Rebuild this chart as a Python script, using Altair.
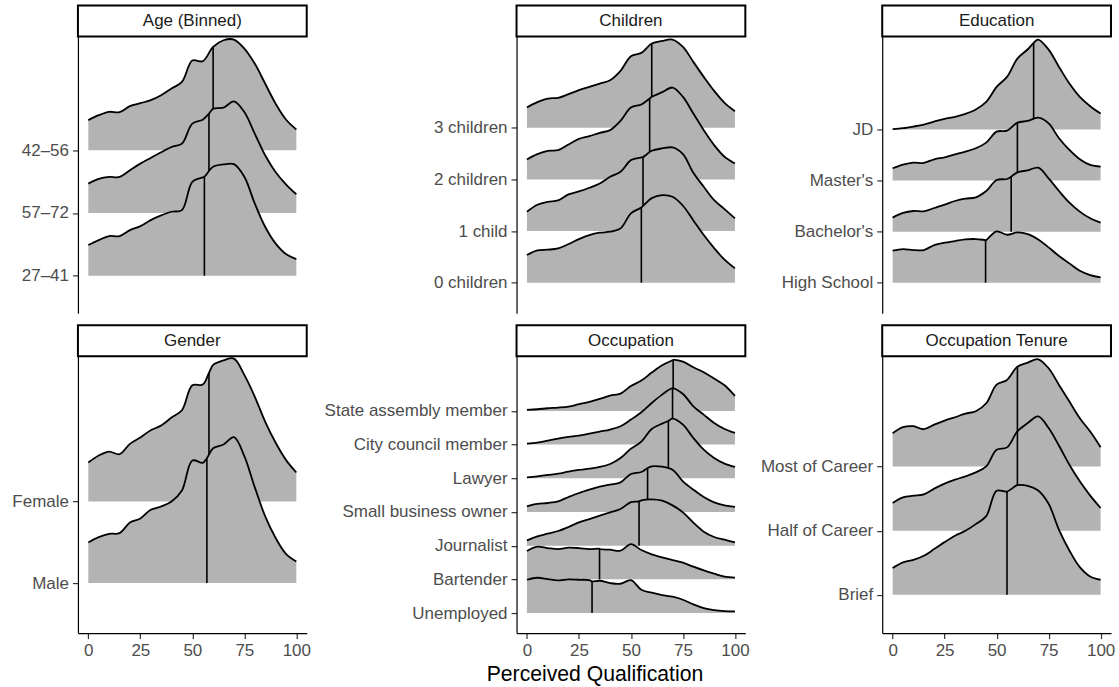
import json
import altair as alt
import pandas as pd

# ---------------- data ----------------
X_GRID = [0, 5, 10, 15, 20, 25, 30, 35, 40, 45, 50, 55, 60, 65, 70, 75, 80, 85, 90, 95, 100]

# ridge heights (arbitrary density units) at X_GRID, bottom ridge first
AGE_CATS = ["27–41", "57–72", "42–56"]
AGE_27_41 = [92, 107, 119, 119, 137, 149, 167, 181, 192, 197, 282, 295, 327, 334, 335, 297, 217, 147, 97, 65, 50]
AGE_57_72 = [88, 102, 108, 108, 128, 148, 165, 182, 198, 208, 268, 280, 313, 316, 335, 303, 238, 173, 123, 86, 56]
AGE_42_56 = [90, 105, 115, 114, 132, 141, 150, 165, 185, 205, 269, 267, 310, 330, 332, 305, 260, 200, 140, 92, 62]
AGE_MED = [55.8, 58, 60]
AGE_MED_H = [297, 298, 310]

CHILD_CATS = ["0 children", "1 child", "2 children", "3 children"]
CHILD_0 = [83, 97, 99, 103, 116, 131, 143, 150, 153, 163, 208, 226, 254, 263, 258, 231, 187, 143, 104, 69, 43]
CHILD_1 = [58, 79, 88, 92, 110, 119, 130, 143, 163, 178, 213, 221, 241, 248, 251, 231, 175, 133, 93, 66, 38]
CHILD_2 = [60, 76, 86, 88, 105, 122, 130, 140, 148, 176, 216, 225, 248, 262, 276, 248, 198, 148, 103, 68, 48]
CHILD_3 = [61, 77, 88, 90, 101, 113, 123, 133, 143, 171, 215, 225, 253, 261, 265, 243, 198, 153, 111, 75, 50]
CHILD_MED = [55, 55.8, 59, 60]
CHILD_MED_H = [226, 222, 243, 253]

EDU_CATS = ["High School", "Bachelor's", "Master's", "JD"]
EDU_HS = [96, 101, 98, 98, 113, 120, 125, 130, 131, 128, 154, 144, 151, 146, 130, 106, 80, 58, 36, 23, 16]
EDU_BA = [42, 56, 62, 61, 71, 81, 92, 99, 103, 122, 155, 158, 178, 184, 192, 160, 122, 87, 60, 40, 27]
EDU_MA = [37, 48, 54, 53, 64, 70, 79, 87, 97, 114, 147, 150, 174, 179, 189, 172, 127, 92, 64, 47, 42]
EDU_JD = [1, 4, 9, 15, 24, 32, 38, 47, 60, 83, 128, 158, 213, 241, 270, 240, 188, 138, 98, 70, 48]
EDU_MED = [44.7, 57, 60, 67.8]
EDU_MED_H = [128, 165, 174, 260]

GENDER_CATS = ["Male", "Female"]
GENDER_M = [122, 138, 148, 150, 182, 194, 220, 230, 245, 278, 368, 361, 405, 416, 438, 381, 288, 201, 136, 88, 65]
GENDER_F = [117, 138, 150, 142, 173, 192, 214, 228, 252, 274, 349, 351, 410, 424, 429, 380, 315, 240, 177, 125, 87]
GENDER_MED = [57, 58]
GENDER_MED_H = [375, 386]

OCC_CATS = ["Unemployed", "Bartender", "Journalist", "Small business owner",
            "Lawyer", "City council member", "State assembly member"]
OCC_UN = [100, 106, 102, 98, 101, 100, 99, 97, 90, 88, 99, 70, 61, 54, 49, 40, 26, 15, 9, 6, 5]
OCC_BA = [85, 98, 94, 91, 95, 94, 91, 91, 89, 86, 106, 88, 75, 66, 58, 50, 38, 27, 17, 8, 5]
OCC_JO = [16, 28, 36, 44, 56, 70, 80, 90, 100, 110, 131, 136, 139, 135, 121, 100, 69, 42, 26, 18, 10]
OCC_SB = [17, 24, 27, 32, 45, 57, 67, 76, 82, 89, 114, 120, 137, 136, 127, 92, 67, 45, 29, 20, 15]
OCC_LA = [3, 6, 10, 14, 20, 25, 29, 34, 43, 61, 89, 110, 148, 164, 179, 161, 121, 86, 61, 44, 34]
OCC_CC = [3, 6, 12, 18, 23, 27, 33, 39, 45, 55, 75, 97, 125, 150, 169, 152, 115, 90, 65, 47, 35]
OCC_SA = [3, 5, 8, 10, 13, 20, 27, 36, 46, 52, 75, 91, 115, 137, 152, 148, 131, 116, 97, 77, 45]
OCC_MED = [31.3, 34.9, 53.9, 58, 68, 70, 70.3]
OCC_MED_H = [95, 92, 133, 132, 172, 169, 153]

TEN_CATS = ["Brief", "Half of Career", "Most of Career"]
TEN_BR = [80, 97, 105, 117, 137, 158, 177, 192, 212, 236, 312, 309, 329, 327, 313, 273, 195, 133, 83, 55, 45]
TEN_HA = [83, 100, 105, 109, 126, 141, 153, 163, 175, 193, 243, 250, 298, 323, 343, 308, 255, 198, 148, 105, 68]
TEN_MO = [100, 118, 121, 112, 126, 138, 148, 159, 166, 190, 246, 260, 300, 312, 322, 295, 245, 195, 145, 105, 58]
TEN_MED = [55, 60, 60]
TEN_MED_H = [310, 298, 300]

X_TICKS = [0, 25, 50, 75, 100]
X_TITLE = "Perceived Qualification"

# ---------------- styling / layout ----------------
FONT = "Liberation Sans"
FILL = "#B3B3B3"
W, H, STRIP_H = 229, 277, 31
GAP1, GAP2, ROW_GAP = 210, 137, 12
LABEL_SIZE = 17
TITLE_SIZE = 21.2
INTERP = "catmull-rom"

# spacing = ridge spacing in density units; lo/hi = y-domain limits in the same units
PANELS = [
    dict(title="Age (Binned)", cats=AGE_CATS, series=[AGE_27_41, AGE_57_72, AGE_42_56],
         med=AGE_MED, medh=AGE_MED_H, spacing=188.5, lo=-113, hi=718),
    dict(title="Children", cats=CHILD_CATS, series=[CHILD_0, CHILD_1, CHILD_2, CHILD_3],
         med=CHILD_MED, medh=CHILD_MED_H, spacing=155, lo=-92, hi=739),
    dict(title="Education", cats=EDU_CATS, series=[EDU_HS, EDU_BA, EDU_MA, EDU_JD],
         med=EDU_MED, medh=EDU_MED_H, spacing=153.3, lo=-92, hi=739),
    dict(title="Gender", cats=GENDER_CATS, series=[GENDER_M, GENDER_F],
         med=GENDER_MED, medh=GENDER_MED_H, spacing=245, lo=-150, hi=681),
    dict(title="Occupation", cats=OCC_CATS,
         series=[OCC_UN, OCC_BA, OCC_JO, OCC_SB, OCC_LA, OCC_CC, OCC_SA],
         med=OCC_MED, medh=OCC_MED_H, spacing=101.17, lo=-60, hi=771),
    dict(title="Occupation Tenure", cats=TEN_CATS, series=[TEN_BR, TEN_HA, TEN_MO],
         med=TEN_MED, medh=TEN_MED_H, spacing=192.5, lo=-115, hi=716),
]


def strip_chart(title):
    return (
        alt.Chart(alt.Data(values=[{"label": title}]))
        .mark_text(font=FONT, fontSize=LABEL_SIZE, color="#1A1A1A")
        .encode(text="label:N")
        .properties(width=W, height=STRIP_H,
                    view=alt.ViewBackground(fill="white", stroke="black", strokeWidth=2))
    )


def spacer(w, h):
    return (
        alt.Chart(alt.Data(values=[{"v": 0}]))
        .mark_point(opacity=0)
        .properties(width=w, height=h)
    )


def panel_chart(p, bottom_row, col):
    n = len(p["cats"])
    S = p["spacing"]
    xscale = alt.Scale(domain=[-5, 105], nice=False, zero=False)
    yscale = alt.Scale(domain=[p["lo"] / S, p["hi"] / S], nice=False, zero=False)

    if bottom_row:
        xaxis_kw = dict(values=X_TICKS, title=None, labelFlush=False, labelOverlap=False)
        if col == 1:
            xaxis_kw.update(title=X_TITLE, titleX=78, titleY=48, titleBaseline="alphabetic",
                            titleAlign="center", titleAnchor="start")
        xaxis = alt.Axis(**xaxis_kw)
    else:
        xaxis = None

    label_expr = json.dumps(p["cats"], ensure_ascii=False) + "[round(datum.value)]"
    yaxis_kw = dict(values=list(range(n)), labelExpr=label_expr, title=None,
                    labelOverlap=False, labelFlush=False, labelLimit=400)
    if col == 0:
        yaxis_kw["minExtent"] = 78
    yaxis = alt.Axis(**yaxis_kw)

    def X(field):
        return alt.X(field, type="quantitative", scale=xscale, axis=xaxis)

    def Y(field):
        return alt.Y(field, type="quantitative", scale=yscale, axis=yaxis)

    layers = []
    for k in reversed(range(n)):
        pts = dict(zip(X_GRID, p["series"][k]))
        pts[p["med"][k]] = p["medh"][k]
        xs = sorted(pts)
        df = pd.DataFrame({
            "x": xs,
            "top": [k + pts[v] / S for v in xs],
            "base": [k] * len(xs),
        })
        mdf = pd.DataFrame({"x": [p["med"][k]], "top": [k + p["medh"][k] / S], "base": [k]})
        area = alt.Chart(df).mark_area(interpolate=INTERP, color=FILL).encode(
            x=X("x"), y=Y("top"), y2="base:Q")
        rule = alt.Chart(mdf).mark_rule(color="black", strokeWidth=1.6).encode(
            x=X("x"), y=Y("base"), y2="top:Q")
        line = alt.Chart(df).mark_line(interpolate=INTERP, color="black", strokeWidth=1.8).encode(
            x=X("x"), y=Y("top"))
        layers += [area, rule, line]
    return alt.layer(*layers).properties(width=W, height=H)


col_widths = [W, GAP1, W, GAP2, W]
cells = []
for row in range(2):
    ps = PANELS[row * 3: row * 3 + 3]
    # strip row
    r = []
    for c in range(5):
        r.append(strip_chart(ps[c // 2]["title"]) if c % 2 == 0 else spacer(col_widths[c], STRIP_H))
    cells += r
    # panel row
    r = []
    for c in range(5):
        r.append(panel_chart(ps[c // 2], row == 1, c // 2) if c % 2 == 0 else spacer(col_widths[c], H))
    cells += r
    if row == 0:
        cells += [spacer(w, ROW_GAP) for w in col_widths]

chart = (
    alt.concat(*cells, columns=5, spacing=0, bounds="flush", align="each")
    .properties(padding={"left": 0, "top": 4.3, "right": 4, "bottom": 0})
    .configure_view(stroke=None)
    .configure_axis(
        grid=False,
        domainColor="black", domainWidth=1.2,
        tickColor="#333333", tickWidth=1.2, tickSize=5.5,
        labelColor="#4D4D4D", labelFont=FONT, labelFontSize=LABEL_SIZE, labelPadding=4,
        titleFont=FONT, titleFontSize=TITLE_SIZE, titleFontWeight="normal", titleColor="black",
    )
)

chart.save("out.html", embed_options={"renderer": "svg", "actions": False})
